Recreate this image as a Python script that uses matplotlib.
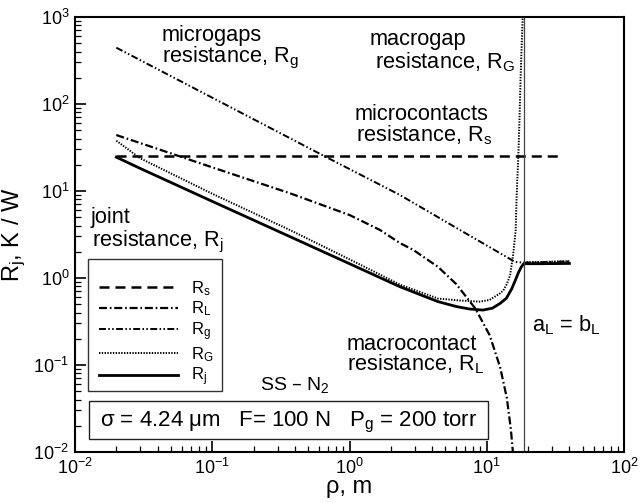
import numpy as np
import matplotlib
matplotlib.use("Agg")
import matplotlib.pyplot as plt
from matplotlib.patches import Rectangle

plt.rcParams['font.family'] = ['Liberation Sans', 'DejaVu Sans']
plt.rcParams['mathtext.default'] = 'regular'
plt.rcParams['lines.scale_dashes'] = False

# ---------------- data ----------------
rho_s = [0.02, 36.0]
R_s = [25.0, 25.0]

rho_L = [0.02, 0.058, 0.1, 0.368, 1.0, 1.67, 2.33, 2.92, 4.42, 6.0, 8.2, 8.6, 10.5, 12.5, 14.0, 15.0, 15.5, 15.8]
R_L = [44.0, 25.0, 18.7, 9.42, 5.3, 3.56, 2.52, 2.1, 1.34, 0.85, 0.452, 0.396, 0.22, 0.095, 0.042, 0.018, 0.01, 0.004]

rho_g = [0.02, 0.63, 2.33, 6.0, 16.1, 18.6, 40.0]
R_g = [444.0, 26.0, 9.0, 3.77, 1.53, 1.50, 1.55]

rho_G = [0.02, 0.0298, 0.1, 0.368, 1.0, 2.33, 4.42, 6.5, 8.9, 10.5, 12.5, 13.2, 14.0, 14.8, 15.6,
         16.25, 16.48, 16.70, 16.98, 17.32, 17.62, 17.92, 18.28, 18.45, np.nan, 18.6, 25.0, 40.0]
R_G = [37.9, 23.8, 9.3, 3.56, 1.64, 0.84, 0.58, 0.55, 0.535, 0.56, 0.667, 0.72, 0.85, 1.08, 1.9,
       3.56, 7.88, 13.4, 25.0, 65.5, 189.0, 418.0, 1000.0, 3000.0, np.nan, 1.52, 1.53, 1.56]

rho_j = [0.02, 0.0298, 0.1, 0.368, 1.0, 2.33, 3.3, 4.42, 6.0, 7.5, 9.4, 11.0, 12.5, 13.9, 15.2,
         16.1, 17.0, 17.8, 18.6, 25.0, 40.0]
R_j = [24.5, 18.2, 7.6, 2.99, 1.46, 0.794, 0.64, 0.535, 0.47, 0.44, 0.428, 0.45, 0.51, 0.585, 0.75,
       0.93, 1.15, 1.33, 1.46, 1.46, 1.47]

rho_contact = 18.6  # a_L = b_L

# ---------------- figure ----------------
fig = plt.figure(figsize=(6.4, 5.03), dpi=100)
ax = fig.add_axes([75/640, 51/503, 549/640, 435/503])
ax.set_xscale('log')
ax.set_yscale('log')
ax.set_xlim(1e-2, 1e2)
ax.set_ylim(1e-2, 1e3)

ax.plot(rho_s, R_s, color='black', lw=1.8, dashes=(7.2, 4.3), label='R$_s$')
ax.plot(rho_L, R_L, color='black', lw=1.6, dashes=(5.8, 2.0, 1.2, 2.0), label='R$_L$')
ax.plot(rho_g, R_g, color='black', lw=1.4, dashes=(5.0, 1.7, 1.1, 1.7, 1.1, 1.7), label='R$_g$')
ax.plot(rho_G, R_G, color='black', lw=1.4, dashes=(1.0, 1.0), label='R$_G$')
ax.plot(rho_j, R_j, color='black', lw=2.0, label='R$_j$')
ax.axvline(rho_contact, color='#444444', lw=0.9)

# ticks / spines
for s in ax.spines.values():
    s.set_linewidth(1.5)
ax.tick_params(which='both', direction='in', top=False, right=False)
ax.tick_params(which='major', length=8, width=1.2, labelsize=13, pad=4)
ax.tick_params(which='minor', length=4.5, width=0.9)

ax.set_xlabel('ρ, m', fontsize=17, labelpad=-1)
ax.set_ylabel('R$_j$, K / W', fontsize=17, labelpad=4)

# annotations
tkw = dict(transform=ax.transAxes, fontsize=15.7, va='baseline', ha='left')
ax.text(0.1579, 0.9448, 'microgaps', **tkw)
ax.text(0.1579, 0.8949, 'resistance, R$_g$', **tkw)
ax.text(0.5361, 0.9356, 'macrogap', **tkw)
ax.text(0.5464, 0.8821, 'resistance, R$_G$', **tkw)
ax.text(0.5100, 0.7632, 'microcontacts', **tkw)
ax.text(0.5118, 0.7133, 'resistance, R$_s$', **tkw)
ax.text(0.0286, 0.5271, 'joint', **tkw)
ax.text(0.0304, 0.4720, 'resistance, R$_j$', **tkw)
ax.text(0.4949, 0.2345, 'macrocontact', **tkw)
ax.text(0.4949, 0.1869, 'resistance, R$_L$', **tkw)
ax.text(0.8319, 0.2766, 'a$_L$ = b$_L$', **tkw)
ax.text(0.3370, 0.1425, 'SS – N$_2$', transform=ax.transAxes, fontsize=14, va='baseline', ha='left')

# parameter box
ax.add_patch(Rectangle((0.0260, 0.0292), 0.7528 - 0.0260, 0.1179 - 0.0292, transform=ax.transAxes,
                       fill=False, edgecolor='#222222', lw=1.0))
ax.text(0.0455, 0.0582, 'σ = 4.24 μm   F= 100 N   P$_g$ = 200 torr', transform=ax.transAxes,
        fontsize=16, va='baseline', ha='left')

# legend
ax.add_patch(Rectangle((0.0242, 0.1409), 0.2683 - 0.0242, 0.4430 - 0.1409, transform=ax.transAxes,
                       facecolor='white', edgecolor='#333333', lw=1.0, zorder=4))
leg = ax.legend(loc='upper left', bbox_to_anchor=(0.0437, 0.398), borderaxespad=0, borderpad=0,
                frameon=False, fontsize=12, handlelength=4.73, handletextpad=0.82, labelspacing=0.12)
leg.set_zorder(5)

fig.savefig('out.png', dpi=100)
